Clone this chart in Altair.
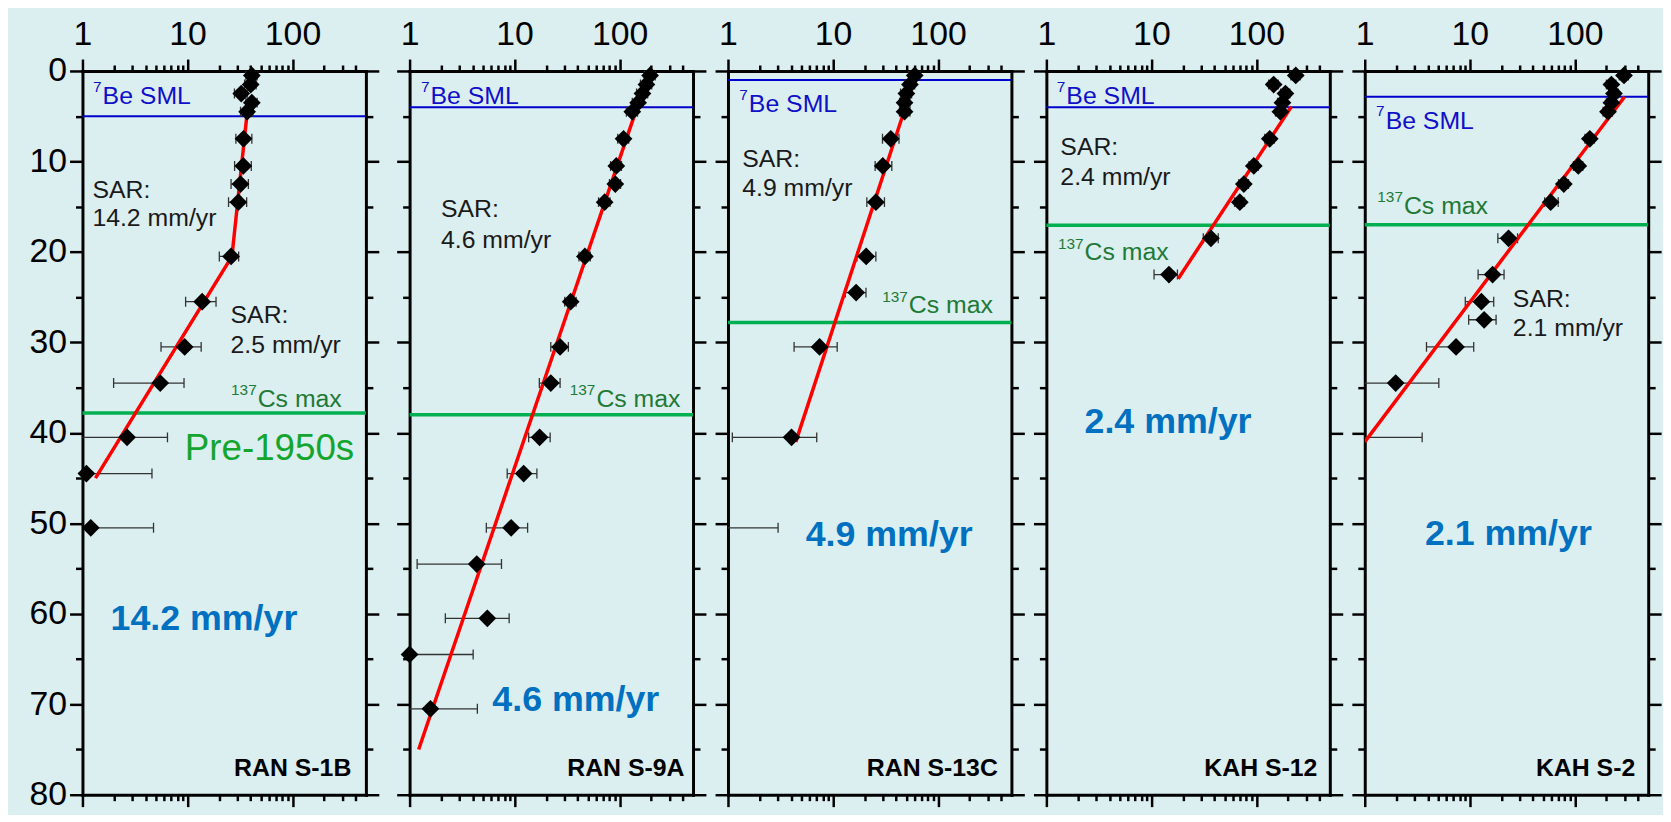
import altair as alt
import pandas as pd

# ---------------- data ----------------
cores = ["RAN S-1B", "RAN S-9A", "RAN S-13C", "KAH S-12", "KAH S-2"]

# RAN S-1B
depth_1 = [0.5, 1.5, 2.5, 3.5, 4.5, 7.5, 10.5, 12.5, 14.5, 20.5, 25.5, 30.5, 34.5, 40.5, 44.5, 50.5]
act_1 = [41, 40, 32.5, 41, 37, 34.2, 34, 32, 30.5, 26, 13.8, 9.4, 5.5, 2.66, 1.09, 1.2]
lo_1 = [36, 35, 28, 36, 32, 28.9, 28.1, 26, 24.6, 20.1, 9.6, 5.6, 1.98, 0.5, 0.5, 0.5]
hi_1 = [46, 45, 37, 46, 42, 41, 40.5, 38, 36.6, 30.7, 18.7, 13.5, 9.27, 6.45, 4.59, 4.75]

# RAN S-9A
depth_2 = [0.5, 1.5, 2.5, 3.5, 4.5, 7.5, 10.5, 12.5, 14.5, 20.5, 25.5, 30.5, 34.5, 40.5, 44.5, 50.5, 54.5, 60.5, 64.5, 70.5]
act_2 = [195, 180, 165, 150, 132, 109, 93, 91, 72, 46.7, 34.2, 27.1, 22.1, 17.3, 12.2, 9.27, 4.36, 5.5, 1.0, 1.58]
lo_2 = [172, 158, 145, 132, 116, 96, 82, 80, 63, 41, 30, 22.1, 17.2, 13.6, 8.5, 5.38, 1.18, 2.19, 0.5, 0.5]
hi_2 = [218, 202, 185, 168, 148, 122, 104, 102, 81, 52.5, 38.5, 32.5, 27.1, 21.8, 16.3, 13.3, 7.5, 8.87, 4.03, 4.42]

# RAN S-13C
depth_3 = [0.5, 1.5, 2.5, 3.5, 4.5, 7.5, 10.5, 14.5, 20.5, 24.5, 30.5, 40.5, 50.5]
act_3 = [60, 54, 50, 48, 48, 35.5, 29.8, 25.6, 20.7, 16.6, 7.45, 4.03, 0.5]
lo_3 = [53, 48, 44, 43, 43, 29.6, 25.2, 21.0, 16.9, 13.1, 4.26, 1.10, 0.3]
hi_3 = [67, 60, 56, 54, 54, 42.5, 36.3, 30.9, 25.6, 20.6, 10.96, 7.0, 3.0]

# KAH S-12
depth_4 = [0.5, 1.5, 2.5, 3.5, 4.5, 7.5, 10.5, 12.5, 14.5, 18.5, 22.5]
act_4 = [237, 146, 189, 177, 169, 134, 94.4, 75.9, 69.5, 36.9, 14.7]
lo_4 = [213, 131, 170, 159, 152, 120, 85, 68, 62, 31.2, 10.6]
hi_4 = [261, 161, 208, 195, 186, 148, 104, 84, 77, 43.3, 17.7]

# KAH S-2
depth_5 = [0.5, 1.5, 2.5, 3.5, 4.5, 7.5, 10.5, 12.5, 14.5, 18.5, 22.5, 25.5, 27.5, 30.5, 34.5, 40.5]
act_5 = [294, 223, 236, 223, 207, 139, 108, 78.6, 58.9, 23.4, 16.5, 12.9, 13.7, 7.4, 1.97, 0.5]
lo_5 = [265, 200, 212, 200, 186, 125, 97, 70, 51.6, 18.5, 12.0, 9.06, 9.76, 3.87, 0.5, 0.3]
hi_5 = [323, 246, 260, 246, 228, 153, 119, 87, 69.5, 28.5, 21.2, 16.9, 17.8, 10.9, 5.07, 3.52]

# fitted SAR lines (activity, depth)
fit_act = [[36.7, 26.5, 1.33], [147, 1.22], [47.7, 4.42], [215, 18.0], [298, 1.0]]
fit_depth = [[5, 20.5, 45], [4, 75], [4.4, 41], [3.95, 22.96], [2.85, 41]]

# marker horizons (depth, cm)
sml_depth = [5, 4, 1, 4, 2.85]
cs_depth = [37.8, 38.0, 27.8, 17.05, 17.0]

# annotations: (activity-axis position, depth, text, kind)
ann_1 = [(1.556, 3.65, "Be SML", "be"), (1.556, 3.65, "7", "be_sup"),
         (1.243, 14.0, "SAR:", "sar"), (1.243, 17.18, "14.2 mm/yr", "sar"),
         (25.7, 27.86, "SAR:", "sar"), (25.7, 31.15, "2.5 mm/yr", "sar"),
         (46.6, 37.1, "Cs max", "cs"), (46.6, 37.1, "137", "cs_sup"),
         (9.43, 42.95, "Pre-1950s", "pre"),
         (1.853, 61.79, "14.2 mm/yr", "rate"),
         (363, 77.88, "RAN S-1B", "core")]
ann_2 = [(1.58, 3.65, "Be SML", "be"), (1.58, 3.65, "7", "be_sup"),
         (1.99, 16.19, "SAR:", "sar"), (1.99, 19.56, "4.6 mm/yr", "sar"),
         (60.1, 37.1, "Cs max", "cs"), (60.1, 37.1, "137", "cs_sup"),
         (6.14, 70.75, "4.6 mm/yr", "rate"),
         (414, 77.88, "RAN S-9A", "core")]
ann_3 = [(1.58, 4.56, "Be SML", "be"), (1.58, 4.56, "7", "be_sup"),
         (1.366, 10.6, "SAR:", "sar"), (1.366, 13.82, "4.9 mm/yr", "sar"),
         (52.7, 26.8, "Cs max", "cs"), (52.7, 26.8, "137", "cs_sup"),
         (5.5, 52.46, "4.9 mm/yr", "rate"),
         (371, 77.88, "RAN S-13C", "core")]
ann_4 = [(1.55, 3.65, "Be SML", "be"), (1.55, 3.65, "7", "be_sup"),
         (1.358, 9.32, "SAR:", "sar"), (1.358, 12.61, "2.4 mm/yr", "sar"),
         (2.31, 20.95, "Cs max", "cs"), (2.31, 20.95, "137", "cs_sup"),
         (2.31, 40.03, "2.4 mm/yr", "rate"),
         (381, 77.88, "KAH S-12", "core")]
ann_5 = [(1.58, 6.39, "Be SML", "be"), (1.58, 6.39, "7", "be_sup"),
         (2.36, 15.8, "Cs max", "cs"), (2.36, 15.8, "137", "cs_sup"),
         (25.7, 26.14, "SAR:", "sar"), (25.7, 29.35, "2.1 mm/yr", "sar"),
         (3.74, 52.35, "2.1 mm/yr", "rate"),
         (376, 77.88, "KAH S-2", "core")]

depths = [depth_1, depth_2, depth_3, depth_4, depth_5]
acts = [act_1, act_2, act_3, act_4, act_5]
los = [lo_1, lo_2, lo_3, lo_4, lo_5]
his = [hi_1, hi_2, hi_3, hi_4, hi_5]
anns = [ann_1, ann_2, ann_3, ann_4, ann_5]

x_ticks = [1, 2, 3, 4, 5, 6, 7, 8, 9, 10, 20, 30, 40, 50, 60, 70, 80, 90, 100, 200, 300, 400]
y_ticks = list(range(0, 81, 5))

# ---------------- style ----------------
FONT = "Liberation Sans"
BG = "#dbeef0"
W, H = 285.5, 729
MAJX = "indexof([1, 10, 100], datum.value) >= 0"
MAJY = "datum.value % 10 == 0"

xs = alt.Scale(type="log", domain=[1, 500])
ys = alt.Scale(domain=[0, 80], reverse=True)

common_axis = dict(title=None, grid=False, labelOverlap=False, labelFlush=False,
                   labelFont=FONT, labelFontSize=34, labelColor="black",
                   domainColor="black", domainWidth=3, domainCap="square",
                   tickColor="black", tickWidth=2.5)


def xaxis(orient, labels):
    kw = dict(common_axis, orient=orient, values=x_ticks, labelPadding=8,
              tickSize={"condition": {"test": MAJX, "value": 12}, "value": 6})
    if labels:
        kw["labelExpr"] = f"({MAJX}) ? format(datum.value, 'd') : ''"
    else:
        kw["labels"] = False
    return alt.Axis(**kw)


def yaxis(orient, labels):
    kw = dict(common_axis, orient=orient, values=y_ticks, labelPadding=3,
              tickSize={"condition": {"test": MAJY, "value": 13}, "value": 7})
    if labels:
        kw["labelExpr"] = f"({MAJY}) ? format(datum.value, 'd') : ''"
        kw["labelBaseline"] = "middle"
    else:
        kw["labels"] = False
    return alt.Axis(**kw)


def panel(i):
    pts = pd.DataFrame({"depth": depths[i], "act": acts[i], "lo": los[i], "hi": his[i]})
    fit = pd.DataFrame({"act": fit_act[i], "depth": fit_depth[i]})
    ann = pd.DataFrame(anns[i], columns=["x", "y", "text", "kind"])

    Y = lambda f: alt.Y(f, scale=ys, axis=None)
    X = lambda f: alt.X(f, scale=xs, axis=None)

    sml = alt.Chart(pd.DataFrame({"depth": [sml_depth[i]]})).mark_rule(
        color="#0000cc", strokeWidth=2).encode(y=Y("depth:Q"))
    cs = alt.Chart(pd.DataFrame({"depth": [cs_depth[i]]})).mark_rule(
        color="#00b050", strokeWidth=3.5).encode(y=Y("depth:Q"))
    err = alt.Chart(pts).mark_rule(color="#333333", strokeWidth=1.3, clip=True).encode(
        x=X("lo:Q"), x2="hi:Q", y=Y("depth:Q"))
    caps = alt.Chart(pts).transform_fold(["lo", "hi"], as_=["end", "val"]).mark_tick(
        orient="vertical", size=10, thickness=1.3, color="#333333", clip=True, opacity=1
    ).encode(x=X("val:Q"), y=Y("depth:Q"))
    red = alt.Chart(fit).mark_line(color="#ff0000", strokeWidth=3.5, clip=True).encode(
        x=alt.X("act:Q", scale=xs, axis=xaxis("bottom", False)),
        y=alt.Y("depth:Q", scale=ys, axis=yaxis("right", False)),
        order=alt.Order("depth:Q"))
    dots = alt.Chart(pts).transform_filter("datum.act >= 0.95").mark_point(
        shape="diamond", filled=True, color="black", size=320, opacity=1).encode(
        x=alt.X("act:Q", scale=xs, axis=xaxis("top", True)),
        y=alt.Y("depth:Q", scale=ys, axis=yaxis("left", i == 0)))

    def txt(kind, **props):
        return alt.Chart(ann).transform_filter(f"datum.kind == '{kind}'").mark_text(
            font=FONT, baseline="alphabetic", **props).encode(
            x=X("x:Q"), y=Y("y:Q"), text="text:N")

    texts = [
        txt("be", align="left", fontSize=25, color="#1010c8"),
        txt("be_sup", align="right", dx=-1, dy=-12.5, fontSize=15.5, color="#1010c8"),
        txt("sar", align="left", fontSize=25, color="#1a1a1a"),
        txt("cs", align="left", fontSize=25, color="#1e7a36"),
        txt("cs_sup", align="right", dx=-1, dy=-12, fontSize=15.5, color="#1e7a36"),
        txt("pre", align="left", fontSize=37, color="#14a52e"),
        txt("rate", align="left", fontSize=36, fontWeight="bold", color="#0070c0"),
        txt("core", align="right", fontSize=25, fontWeight="bold", color="black"),
    ]

    return alt.layer(sml, cs, err, caps, red, dots, *texts).resolve_axis(
        x="independent", y="independent").properties(width=W, height=H)


panels = [panel(i) for i in range(5)]
inner = alt.hconcat(*panels[1:], spacing=34.7, bounds="flush")
chart = alt.hconcat(panels[0], inner, spacing=43.5, bounds="flush").properties(
    background=BG,
    padding={"left": 21, "top": 6.5, "right": 0, "bottom": 0},
).configure_view(stroke=None)

chart.save("out.html", embed_options={"renderer": "svg", "actions": False})
